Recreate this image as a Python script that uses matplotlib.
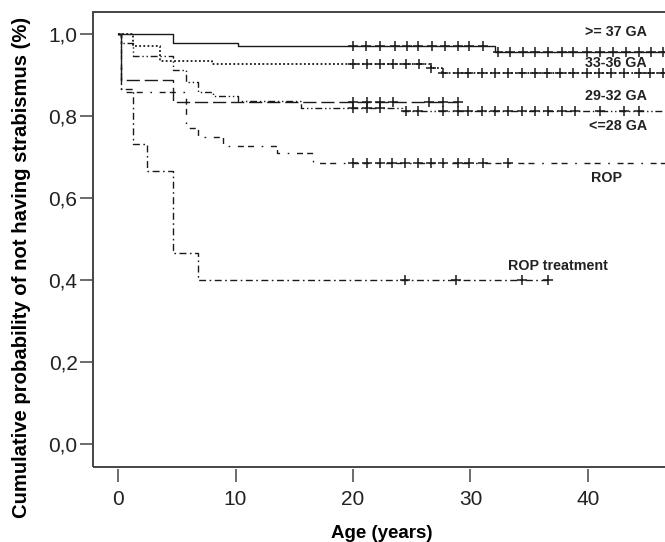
import numpy as np
import matplotlib
matplotlib.use("Agg")
import matplotlib.pyplot as plt
from matplotlib.patches import Rectangle

plt.rcParams["font.family"] = ["Liberation Sans", "DejaVu Sans"]

# Kaplan-Meier steps: time (years) where survival changes, survival after that time
t_37 = [0, 4.65, 10.2, 32.1]
s_37 = [1.0, 0.978, 0.970, 0.957]
end_37 = 47.5
cens_37 = [20.0, 21.1, 22.3, 23.6, 24.6, 25.5, 26.7, 27.8, 28.9, 29.9, 31.1,
           32.3, 33.4, 34.5, 35.5, 36.6, 37.8, 38.7, 39.9, 41.0, 42.1, 43.2,
           44.3, 45.4, 46.4]

t_3336 = [0, 1.3, 3.6, 8.0, 26.6, 27.6]
s_3336 = [1.0, 0.970, 0.934, 0.926, 0.917, 0.904]
end_3336 = 47.5
cens_3336 = [20.0, 21.2, 22.3, 23.4, 24.5, 25.6, 26.6, 27.7, 28.9, 29.8, 31.0,
             32.1, 33.2, 34.4, 35.5, 36.5, 37.6, 38.7, 39.9, 40.9, 42.0, 43.1,
             44.3, 45.3, 46.4]

t_2932 = [0, 0.25, 1.3, 4.7, 5.8, 6.8, 8.1, 10.2, 15.6, 24.2]
s_2932 = [1.0, 0.978, 0.946, 0.912, 0.884, 0.859, 0.848, 0.838, 0.820, 0.812]
end_2932 = 47.5
cens_2932 = [20.0, 21.2, 22.3, 24.5, 25.5, 27.7, 28.9, 29.8, 31.0, 32.1, 33.2,
             34.4, 35.5, 36.6, 37.8, 38.9, 41.0, 43.1, 44.3]

t_28 = [0, 0.25, 4.65]
s_28 = [1.0, 0.888, 0.835]
end_28 = 28.9
cens_28 = [20.0, 21.2, 22.3, 23.4, 26.5, 27.7, 28.9]

t_rop = [0, 0.25, 5.8, 6.8, 8.9, 13.5, 16.6]
s_rop = [1.0, 0.86, 0.771, 0.750, 0.727, 0.709, 0.686]
end_rop = 47.5
cens_rop = [20.0, 21.2, 22.3, 23.3, 24.4, 25.5, 26.6, 27.7, 28.9, 29.9, 31.1, 33.2]

t_ropt = [0, 0.25, 1.3, 2.45, 4.65, 6.8]
s_ropt = [1.0, 0.867, 0.733, 0.667, 0.467, 0.400]
end_ropt = 36.6
cens_ropt = [24.4, 28.8, 34.4, 36.6]

labels = [">= 37 GA", "33-36 GA", "29-32 GA", "<=28 GA", "ROP", "ROP treatment"]
ytick_vals = [0.0, 0.2, 0.4, 0.6, 0.8, 1.0]
ytick_labels = ["0,0", "0,2", "0,4", "0,6", "0,8", "1,0"]
xtick_vals = [0, 10, 20, 30, 40]

series = [
    (t_37, s_37, end_37, cens_37, "-", 1.0),
    (t_3336, s_3336, end_3336, cens_3336, (0, (1, 1.3)), 1.3),
    (t_2932, s_2932, end_2932, cens_2932, (0, (5, 2, 1, 2, 1, 2)), 1.0),
    (t_28, s_28, end_28, cens_28, (0, (9.5, 3.5)), 1.0),
    (t_rop, s_rop, end_rop, cens_rop, (0, (4.3, 3, 4.3, 5.5, 1.2, 5.5)), 1.0),
    (t_ropt, s_ropt, end_ropt, cens_ropt, (0, (5, 2.5, 1.2, 2.5)), 1.0),
]

fig = plt.figure(figsize=(6.65, 5.42), dpi=100)
ax = fig.add_axes([93 / 665, 75.5 / 542, 577 / 665, 454.5 / 542])

line_col = "#1a1a1a"
for t, s, end, cens, ls, lw in series:
    xs = list(t) + [end]
    ys = list(s) + [s[-1]]
    ax.step(xs, ys, where="post", color=line_col, lw=lw, linestyle=ls)
    idx = np.searchsorted(t, cens, side="right") - 1
    cy = np.array(s)[idx]
    ax.plot(cens, cy, linestyle="none", marker="+", ms=6.5, mew=1.1,
            color=line_col)

ax.set_xlim(-2.13, 46.98)
ax.set_ylim(-0.055, 1.054)

for sp in ax.spines.values():
    sp.set_visible(False)
ax.spines["bottom"].set_position(("outward", 2))
ax.add_patch(Rectangle((0, 0), 1, 1, transform=ax.transAxes, fill=False,
                       edgecolor="#444444", lw=1.4, clip_on=False, zorder=5))

ax.set_yticks(ytick_vals)
ax.set_yticklabels(ytick_labels)
ax.set_xticks(xtick_vals)
ax.tick_params(axis="both", direction="out", length=9.6, width=1.1,
               color="#444444", labelsize=15, labelcolor="#222222")
ax.tick_params(axis="y", pad=1.5)
ax.tick_params(axis="x", pad=5)

ax.set_xlabel("Age (years)", fontsize=13.5, fontweight="bold", labelpad=12)
ax.set_ylabel("Cumulative probability of not having strabismus (%)",
              fontsize=14.6, fontweight="bold")
ax.yaxis.set_label_coords(-0.108, 0.439)

label_pos = [(42.35, 1.005), (42.4, 0.929), (42.4, 0.849), (42.6, 0.776),
             (41.6, 0.649), (37.4, 0.434)]
for lab, (lx, ly) in zip(labels, label_pos):
    ax.text(lx, ly, lab, ha="center", va="center", fontsize=10.3,
            fontweight="bold", color="#222222")

fig.savefig("out.png", dpi=100)
